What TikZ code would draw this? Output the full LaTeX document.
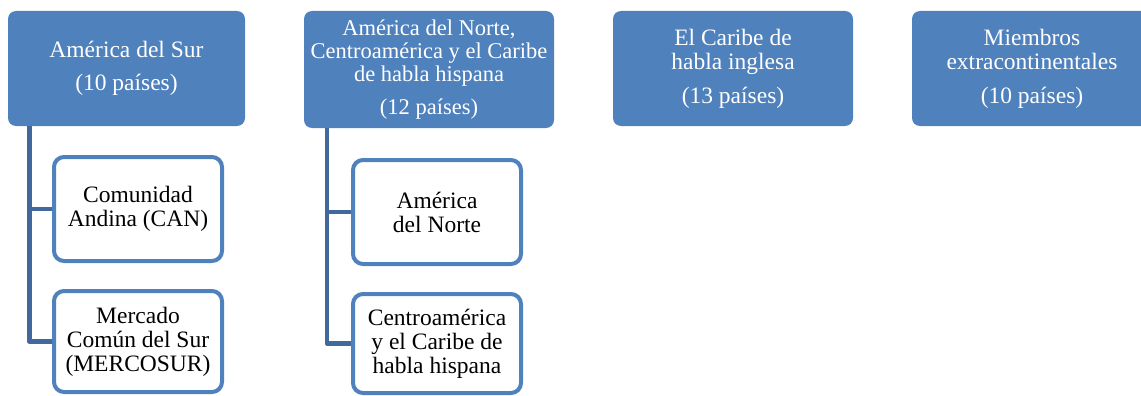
\documentclass[tikz,border=0pt]{standalone}
\usepackage{fontspec}
\setmainfont{Liberation Serif}
\definecolor{boxblue}{RGB}{79,129,189}
\definecolor{linkblue}{RGB}{65,105,155}
\newcommand\topfont{\fontsize{23.5}{24}\selectfont}
\newcommand\topfontsmall{\fontsize{22.5}{23}\selectfont}
\newcommand\childfont{\fontsize{23.5}{24}\selectfont}
\tikzset{
  topbox/.style={rectangle, rounded corners=8pt, fill=boxblue, text=white, align=center, inner sep=0pt, font=\topfont},
  childbox/.style={rectangle, rounded corners=10pt, draw=boxblue, line width=4pt, fill=white, text=black, align=center, inner sep=0pt, minimum width=168pt, font=\childfont},
  link/.style={draw=linkblue, line width=4.5pt, line join=round}
}
\begin{document}
\begin{tikzpicture}[x=1pt,y=-1pt]
\clip (0,0) rectangle (1141,396);
\fill[white] (0,0) rectangle (1141,396);
% top boxes
\node[topbox, minimum width=237pt, minimum height=115pt] (sur) at (126.5,68.5)
  {América del Sur\\[9pt](10 países)};
\node[topbox, minimum width=250pt, minimum height=117pt, font=\topfontsmall] (norte) at (429,69.5)
  {América del Norte,\\Centroamérica y el Caribe\\de habla hispana\\[10pt](12 países)};
\node[topbox, minimum width=240pt, minimum height=115pt] (ingl) at (733,68.5)
  {El Caribe de\\habla inglesa\\[10pt](13 países)};
\node[topbox, minimum width=240pt, minimum height=115pt] (extra) at (1032,68.5)
  {Miembros\\extracontinentales\\[10pt](10 países)};
% children
\node[childbox, minimum height=104pt] (can) at (138,209) {Comunidad\\Andina (CAN)};
\node[childbox, minimum height=101pt] (merc) at (138,341.5) {Mercado\\Común del Sur\\(MERCOSUR)};
\node[childbox, minimum height=104pt] (an) at (437,212) {América\\del Norte};
\node[childbox, minimum height=99pt] (ca) at (437,343.5) {Centroamérica\\y el Caribe de\\habla hispana};
% connectors
\coordinate (s1) at ([xshift=21.5pt]sur.south west);
\coordinate (s2) at ([xshift=23pt]norte.south west);
\draw[link] (s1) |- (can.west);
\draw[link] (s1) |- (merc.west);
\draw[link] (s2) |- (an.west);
\draw[link] (s2) |- (ca.west);
\end{tikzpicture}
\end{document}
